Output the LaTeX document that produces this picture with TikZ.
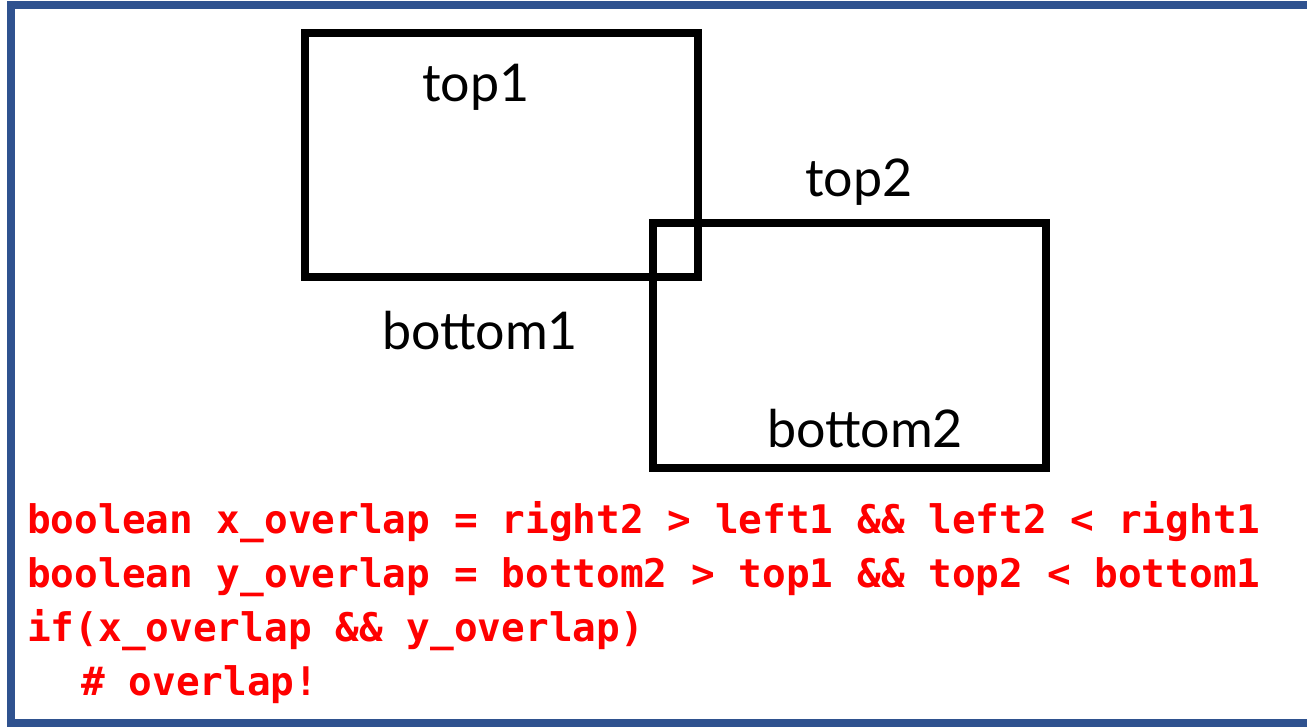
\documentclass[tikz,border=0pt]{standalone}
\usepackage{fontspec}
\setmainfont{Lato}
\newfontfamily\codefont{DejaVu Sans Mono}
\definecolor{frameblue}{RGB}{47,82,143}
\definecolor{codered}{RGB}{255,0,0}
\begin{document}
\begin{tikzpicture}[x=1pt,y=-1pt,
  box/.style={draw=black,line width=8pt},
  lbl/.style={anchor=base,inner sep=0pt,font=\fontsize{52}{60}\selectfont},
  code/.style={anchor=base west,inner sep=0pt,text=codered,font=\codefont\bfseries\fontsize{39.4}{47}\selectfont}]
\useasboundingbox (0,0) rectangle (1307,727);
\draw[frameblue,line width=8pt] (11,5) rectangle (1350,723);
\draw[box] (305,33) rectangle (698,277);
\draw[box] (653,223) rectangle (1046,468);
\node[lbl] (top1) at (476,102) {top1};
\node[lbl] (bottom1) at (480,350) {bottom1};
\node[lbl] (top2) at (859,197) {top2};
\node[lbl] (bottom2) at (865,447) {bottom2};
\node[code] (c1) at (27,533) {boolean x\_overlap = right2 > left1 \&\& left2 < right1};
\node[code] (c2) at (27,587) {boolean y\_overlap = bottom2 > top1 \&\& top2 < bottom1};
\node[code] (c3) at (27,641) {if(x\_overlap \&\& y\_overlap)};
\node[code] (c4) at (81,695) {\#\ overlap!};
\end{tikzpicture}
\end{document}
